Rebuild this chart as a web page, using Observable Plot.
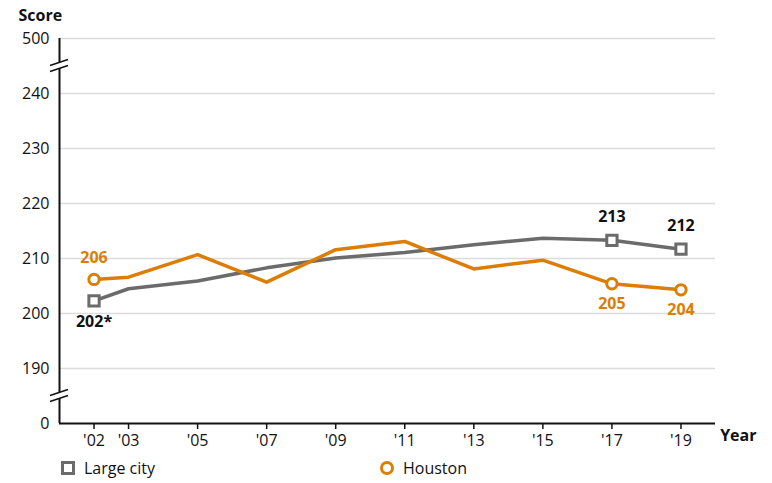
<!DOCTYPE html>
<html>
<head>
<meta charset="utf-8">
<script src="https://cdn.jsdelivr.net/npm/d3@7"></script>
<script src="https://cdn.jsdelivr.net/npm/@observablehq/plot@0.6"></script>
<style>
  html, body { margin: 0; padding: 0; background: #fff; }
  body { width: 772px; height: 483px; overflow: hidden; font-family: "Open Sans", sans-serif; }
  #legend { position: relative; height: 31px; font-size: 16px; color: #111; }
  .item { position: absolute; top: 2px; display: flex; align-items: center; height: 28px; }
  .sw { box-sizing: border-box; width: 14px; height: 14px; margin-right: 9px; background: #fff; }
</style>
</head>
<body>
<div id="chart"></div>
<div id="legend"></div>
<script>
const years = [2002, 2003, 2005, 2007, 2009, 2011, 2013, 2015, 2017, 2019];
const largeCity = [202.3, 204.5, 205.9, 208.3, 210.1, 211.1, 212.5, 213.7, 213.3, 211.7];
const houston = [206.2, 206.6, 210.7, 205.7, 211.6, 213.1, 208.1, 209.7, 205.4, 204.3];
const largeCityLabels = ["202*", null, null, null, null, null, null, null, "213", "212"];
const houstonLabels = ["206", null, null, null, null, null, null, null, "205", "204"];
const yTicks = [0, 190, 200, 210, 220, 230, 240, 500];
const xTicks = years;
const seriesNames = ["Large city", "Houston"];

const GRAY = "#6b6b6b";
const ORANGE = "#dc7d06";

// broken axis: 0 sits one step below 190, 500 one step above 240
const brk = v => v <= 0 ? 180 : v >= 500 ? 250 : v;

const lc = years.map((y, i) => ({year: y, v: largeCity[i], label: largeCityLabels[i]}));
const ho = years.map((y, i) => ({year: y, v: houston[i], label: houstonLabels[i]}));

const chart = Plot.plot({
  width: 772,
  height: 452,
  marginLeft: 59,
  marginRight: 57,
  marginTop: 38,
  marginBottom: 29,
  style: {fontFamily: "Open Sans, sans-serif", fontSize: "16px", color: "#111", background: "#fff"},
  x: {domain: [2001, 2020], label: null},
  y: {domain: [180, 250], transform: brk, label: null},
  marks: [
    Plot.gridY(yTicks.filter(d => d !== 0), {x1: 2001, x2: 2020, stroke: "#dcdcdc", strokeOpacity: 1, strokeWidth: 1.5}),
    Plot.axisY(yTicks, {tickSize: 0, tickPadding: 10, fontSize: 16, fill: "#111"}),
    Plot.axisX(xTicks, {tickSize: 6, tickPadding: 5, stroke: "#111", strokeWidth: 1.5, fontSize: 16, fill: "#111", tickFormat: d => "'" + String(d).slice(2)}),
    Plot.ruleX([2001], {y1: 0, y2: 500, stroke: "#111", strokeWidth: 2}),
    Plot.ruleY([0], {x1: 2001, x2: 2020, stroke: "#111", strokeWidth: 2}),
    Plot.line(lc, {x: "year", y: "v", stroke: GRAY, strokeWidth: 3.5}),
    Plot.line(ho, {x: "year", y: "v", stroke: ORANGE, strokeWidth: 3.5}),
    Plot.dot(lc.filter(d => d.label), {x: "year", y: "v", symbol: "square", r: 5.8, fill: "#fff", stroke: GRAY, strokeWidth: 3}),
    Plot.dot(ho.filter(d => d.label), {x: "year", y: "v", r: 5.2, fill: "#fff", stroke: ORANGE, strokeWidth: 3}),
    Plot.text(lc.filter(d => d.label && d.year < 2010), {x: "year", y: "v", text: "label", dy: 21, fill: "#111", fontWeight: 700, fontSize: 16}),
    Plot.text(lc.filter(d => d.label && d.year > 2010), {x: "year", y: "v", text: "label", dy: -23, fill: "#111", fontWeight: 700, fontSize: 16}),
    Plot.text(ho.filter(d => d.label && d.year < 2010), {x: "year", y: "v", text: "label", dy: -22, fill: ORANGE, fontWeight: 700, fontSize: 16}),
    Plot.text(ho.filter(d => d.label && d.year > 2010), {x: "year", y: "v", text: "label", dy: 20, fill: ORANGE, fontWeight: 700, fontSize: 16}),
    Plot.text(["Score"], {frameAnchor: "top-left", dx: -41, dy: -18, fill: "#111", fontWeight: 700, fontSize: 16, textAnchor: "start", lineAnchor: "bottom"}),
    Plot.text(["Year"], {frameAnchor: "bottom-right", dx: 41, dy: 17, fill: "#111", fontWeight: 700, fontSize: 16, textAnchor: "end"})
  ]
});

// axis break marks
const svg = d3.select(chart);
const ys = chart.scale("y");
const xs = chart.scale("x");
const ax = xs.apply(2001);
[[240, 250], [180, 190]].forEach(([a, b]) => {
  const yc = (ys.apply(a) + ys.apply(b)) / 2;
  const g = svg.append("g");
  g.append("polygon")
    .attr("points", `${ax - 9},${yc + 6} ${ax + 9},${yc} ${ax + 9},${yc - 6} ${ax - 9},${yc}`)
    .attr("fill", "#fff");
  g.append("line").attr("x1", ax - 9).attr("y1", yc + 6).attr("x2", ax + 9).attr("y2", yc).attr("stroke", "#111").attr("stroke-width", 1.5);
  g.append("line").attr("x1", ax - 9).attr("y1", yc).attr("x2", ax + 9).attr("y2", yc - 6).attr("stroke", "#111").attr("stroke-width", 1.5);
});

document.getElementById("chart").appendChild(chart);

const legend = document.getElementById("legend");
const items = [
  {name: seriesNames[0], left: 61, style: `border: 3.5px solid ${GRAY};`},
  {name: seriesNames[1], left: 380, style: `border: 3.5px solid ${ORANGE}; border-radius: 50%;`}
];
items.forEach(it => {
  const d = document.createElement("div");
  d.className = "item";
  d.style.left = it.left + "px";
  d.innerHTML = `<span class="sw" style="${it.style}"></span><span>${it.name}</span>`;
  legend.appendChild(d);
});
</script>
</body>
</html>
